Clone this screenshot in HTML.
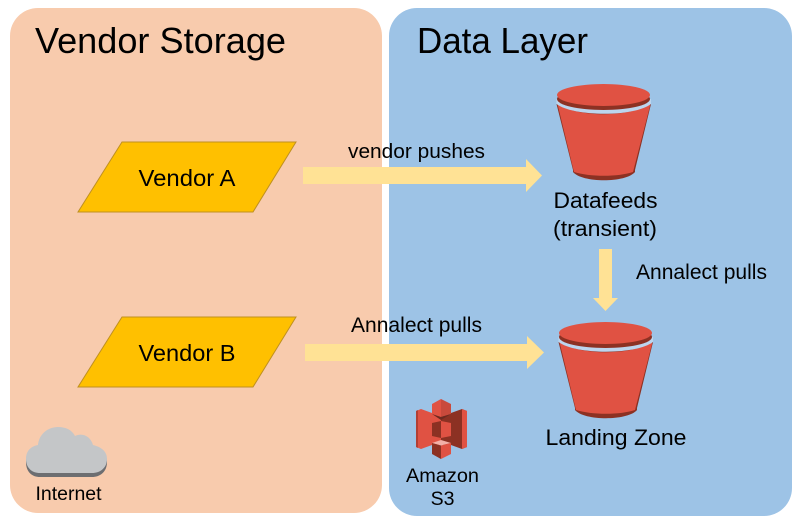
<!DOCTYPE html>
<html>
<head>
<meta charset="utf-8">
<style>
html,body{margin:0;padding:0;background:#fff;width:800px;height:525px;overflow:hidden}
svg{display:block}
text{font-family:"Liberation Sans",Arial,sans-serif;fill:#000}
</style>
</head>
<body>
<svg width="800" height="525" viewBox="0 0 800 525" xmlns="http://www.w3.org/2000/svg">
<defs>
<g id="bucket">
<path d="M556.500 104 L651 104 L635 170 L635 172 C626 183 582 183 573 172 L573 170 Z" fill="#8c3123"/>
<path d="M557 103 C575 118 633 118 650 103 L650 106 L633 172 C618 177 590 177 574 172 L558 106 Z" fill="#e05243"/>
<path d="M556.500 99 L651 99 L651 104 C634 117 574 117 556.500 104 Z" fill="#bcd5ee"/>
<ellipse cx="603.500" cy="99" rx="46.500" ry="11" fill="#8c3123"/>
<ellipse cx="603.500" cy="95" rx="46.500" ry="11" fill="#e05243"/>
</g>
</defs>

<rect x="10" y="8" width="372" height="505" rx="28" fill="#f8cbad"/>
<rect x="389" y="8" width="403" height="508" rx="28" fill="#9dc3e6"/>

<text x="35" y="53" font-size="36" textLength="251" lengthAdjust="spacingAndGlyphs">Vendor Storage</text>
<text x="417" y="53" font-size="36" textLength="171" lengthAdjust="spacingAndGlyphs">Data Layer</text>

<polygon points="122,142 296,142 253,212 78,212" fill="#ffc000" stroke="#bf9020" stroke-width="1"/>
<polygon points="122,317 296,317 253,387 78,387" fill="#ffc000" stroke="#bf9020" stroke-width="1"/>
<text x="187" y="186" font-size="23" text-anchor="middle" textLength="97" lengthAdjust="spacingAndGlyphs">Vendor A</text>
<text x="187" y="361" font-size="23" text-anchor="middle" textLength="97" lengthAdjust="spacingAndGlyphs">Vendor B</text>

<polygon points="303,167 526,167 526,159 542,175.500 526,192 526,184 303,184" fill="#ffe295"/>
<polygon points="305,344 527,344 527,336 544,352.500 527,369 527,361 305,361" fill="#ffe295"/>
<polygon points="599,249 612,249 612,298 618,298 605.500,311 593,298 599,298" fill="#ffe295"/>

<text x="348" y="158" font-size="20.500" textLength="137" lengthAdjust="spacingAndGlyphs">vendor pushes</text>
<text x="351" y="332" font-size="21" textLength="131" lengthAdjust="spacingAndGlyphs">Annalect pulls</text>
<text x="636" y="279" font-size="21" textLength="131" lengthAdjust="spacingAndGlyphs">Annalect pulls</text>

<use href="#bucket"/>
<use href="#bucket" x="2" y="238"/>

<text x="605.500" y="208" font-size="22.500" text-anchor="middle" textLength="104" lengthAdjust="spacingAndGlyphs">Datafeeds</text>
<text x="605" y="236" font-size="22.500" text-anchor="middle" textLength="104" lengthAdjust="spacingAndGlyphs">(transient)</text>
<text x="616" y="445" font-size="22.500" text-anchor="middle" textLength="141" lengthAdjust="spacingAndGlyphs">Landing Zone</text>

<!-- S3 icon -->
<g>
<polygon points="416,411 421,409 432,413 432,445 421,449 416,447" fill="#e05243"/>
<polygon points="416,411 418,410 418,448 416,447" fill="#b33f33"/>
<polygon points="451,413 462,409 467,411 467,447 462,449 451,445" fill="#8c3123"/>
<polygon points="462,409 467,411 467,447 462,449" fill="#e05243"/>
<polygon points="432,413 441,414 441,445 432,445" fill="#e05243"/>
<polygon points="441,414 451,413 451,445 441,445" fill="#8c3123"/>
<polygon points="441,399 432,404 432,414 441,417" fill="#e05243"/>
<polygon points="441,399 451,404 451,414 441,417" fill="#c94a3c"/>
<polygon points="432,414 441,417 451,414 441,420" fill="#6e2a20"/>
<polygon points="432,423 441,421 441,438 432,436" fill="#8c3123"/>
<polygon points="441,421 451,423 451,436 441,438" fill="#e05243"/>
<polygon points="432,443 441,440 451,443 441,445.500" fill="#f2b0a8"/>
<polygon points="432,443 441,445.500 441,459 432,454" fill="#8c3123"/>
<polygon points="441,445.500 451,443 451,454 441,459" fill="#e05243"/>
</g>
<text x="442.500" y="482" font-size="19.500" text-anchor="middle" textLength="73" lengthAdjust="spacingAndGlyphs">Amazon</text>
<text x="442.500" y="505" font-size="19.500" text-anchor="middle">S3</text>

<!-- Cloud -->
<path d="M26 462 C26 452 32 448 38 447 C39 436 48 429 58 429 C66 429 72 432 75 438 C83 434 91 439 93 447 C101 449 107 453 107 462 C107 472 100 477 92 477 L40 477 C32 477 26 472 26 462 Z" fill="#6d6e71"/>
<path d="M26 459 C26 450 32 446 38 445 C39 434 48 427 58 427 C66 427 72 430 75 436 C83 432 91 437 93 445 C101 447 107 451 107 459 C107 468 100 473 92 473 L40 473 C32 473 26 468 26 459 Z" fill="#c4c6c8"/>
<text x="68.500" y="500" font-size="19" text-anchor="middle" textLength="66" lengthAdjust="spacingAndGlyphs">Internet</text>
</svg>
</body>
</html>
